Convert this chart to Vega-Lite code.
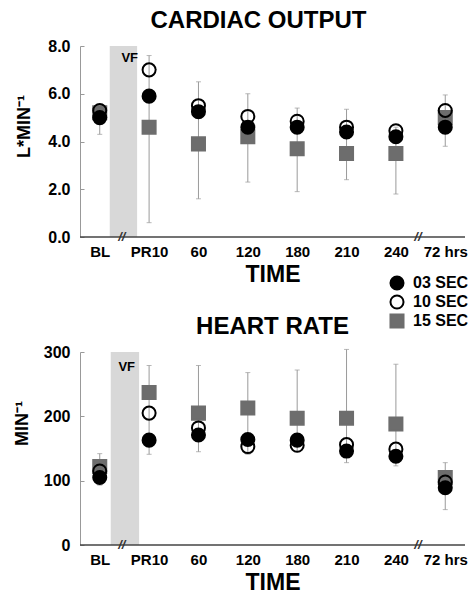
{
  "$schema": "https://vega.github.io/schema/vega-lite/v6.json",
  "padding": {"left": 13, "top": 9, "right": 0, "bottom": 0},
  "spacing": 29,
  "datasets": {
    "co": [
      {"time": "BL", "group": "15 SEC", "value": 5.2},
      {"time": "PR10", "group": "15 SEC", "value": 4.6},
      {"time": "60", "group": "15 SEC", "value": 3.9},
      {"time": "120", "group": "15 SEC", "value": 4.2},
      {"time": "180", "group": "15 SEC", "value": 3.7},
      {"time": "210", "group": "15 SEC", "value": 3.5},
      {"time": "240", "group": "15 SEC", "value": 3.5},
      {"time": "72 hrs", "group": "15 SEC", "value": 5.0},
      {"time": "BL", "group": "10 SEC", "value": 5.3},
      {"time": "PR10", "group": "10 SEC", "value": 7.0},
      {"time": "60", "group": "10 SEC", "value": 5.5},
      {"time": "120", "group": "10 SEC", "value": 5.05},
      {"time": "180", "group": "10 SEC", "value": 4.85},
      {"time": "210", "group": "10 SEC", "value": 4.6},
      {"time": "240", "group": "10 SEC", "value": 4.45},
      {"time": "72 hrs", "group": "10 SEC", "value": 5.3},
      {"time": "BL", "group": "03 SEC", "value": 5.0},
      {"time": "PR10", "group": "03 SEC", "value": 5.9},
      {"time": "60", "group": "03 SEC", "value": 5.25},
      {"time": "120", "group": "03 SEC", "value": 4.6},
      {"time": "180", "group": "03 SEC", "value": 4.6},
      {"time": "210", "group": "03 SEC", "value": 4.4},
      {"time": "240", "group": "03 SEC", "value": 4.2},
      {"time": "72 hrs", "group": "03 SEC", "value": 4.6}
    ],
    "co_err": [
      {"time": "BL", "lo": 4.3, "hi": 5.5},
      {"time": "PR10", "lo": 0.6, "hi": 7.6},
      {"time": "60", "lo": 1.6, "hi": 6.5},
      {"time": "120", "lo": 2.3, "hi": 6.0},
      {"time": "180", "lo": 1.9, "hi": 5.4},
      {"time": "210", "lo": 2.4, "hi": 5.35},
      {"time": "240", "lo": 1.8, "hi": 4.6},
      {"time": "72 hrs", "lo": 3.8, "hi": 5.95}
    ],
    "hr": [
      {"time": "BL", "group": "15 SEC", "value": 122},
      {"time": "PR10", "group": "15 SEC", "value": 237},
      {"time": "60", "group": "15 SEC", "value": 205},
      {"time": "120", "group": "15 SEC", "value": 213},
      {"time": "180", "group": "15 SEC", "value": 197},
      {"time": "210", "group": "15 SEC", "value": 197},
      {"time": "240", "group": "15 SEC", "value": 188},
      {"time": "72 hrs", "group": "15 SEC", "value": 105},
      {"time": "BL", "group": "10 SEC", "value": 115},
      {"time": "PR10", "group": "10 SEC", "value": 205},
      {"time": "60", "group": "10 SEC", "value": 182},
      {"time": "120", "group": "10 SEC", "value": 153},
      {"time": "180", "group": "10 SEC", "value": 155},
      {"time": "210", "group": "10 SEC", "value": 156},
      {"time": "240", "group": "10 SEC", "value": 149},
      {"time": "72 hrs", "group": "10 SEC", "value": 98},
      {"time": "BL", "group": "03 SEC", "value": 105},
      {"time": "PR10", "group": "03 SEC", "value": 163},
      {"time": "60", "group": "03 SEC", "value": 171},
      {"time": "120", "group": "03 SEC", "value": 164},
      {"time": "180", "group": "03 SEC", "value": 163},
      {"time": "210", "group": "03 SEC", "value": 146},
      {"time": "240", "group": "03 SEC", "value": 138},
      {"time": "72 hrs", "group": "03 SEC", "value": 89}
    ],
    "hr_err": [
      {"time": "BL", "lo": 93, "hi": 142},
      {"time": "PR10", "lo": 141, "hi": 279},
      {"time": "60", "lo": 145, "hi": 279},
      {"time": "120", "lo": 141, "hi": 268},
      {"time": "180", "lo": 145, "hi": 272},
      {"time": "210", "lo": 128, "hi": 304},
      {"time": "240", "lo": 123, "hi": 281},
      {"time": "72 hrs", "lo": 55, "hi": 128}
    ],
    "breaks": [{"time": "BL"}, {"time": "240"}]
  },
  "vconcat": [
    {
      "width": 385,
      "height": 191,
      "title": {"text": "CARDIAC OUTPUT", "fontSize": 24, "fontWeight": "bold", "font": "Liberation Sans", "dx": -14, "offset": 5},
      "layer": [
        {
          "data": {"values": [{"k": 1}]},
          "mark": {"type": "rect", "fill": "#d8d8d8", "xOffset": 10, "x2Offset": -12},
          "encoding": {"x": {"datum": "BL", "type": "ordinal"}, "x2": {"datum": "PR10"}, "y": {"datum": 0, "type": "quantitative"}, "y2": {"datum": 8}}
        },
        {
          "data": {"values": [{"k": 1}]},
          "mark": {"type": "text", "text": "VF", "fontSize": 13, "fontWeight": "bold", "font": "Liberation Sans", "dx": 30, "dy": 12},
          "encoding": {"x": {"datum": "BL", "type": "ordinal"}, "y": {"datum": 8, "type": "quantitative"}}
        },
        {
          "data": {"values": [{"k": 1}]},
          "mark": {"type": "rule", "stroke": "#444444", "strokeWidth": 1.5},
          "encoding": {"y": {"datum": 0, "type": "quantitative"}}
        },
        {
          "data": {"name": "breaks"},
          "mark": {"type": "text", "text": "//", "fontSize": 13, "fontStyle": "italic", "fontWeight": "bold", "dx": 22, "color": "#333333"},
          "encoding": {"x": {"field": "time", "type": "ordinal"}, "y": {"datum": 0, "type": "quantitative"}}
        },
        {
          "data": {"name": "co_err"},
          "mark": {"type": "rule", "stroke": "#9a9a9a", "strokeWidth": 1},
          "encoding": {"x": {"field": "time", "type": "ordinal"}, "y": {"field": "lo", "type": "quantitative", "title": "L*MIN⁻¹"}, "y2": {"field": "hi"}}
        },
        {
          "data": {"name": "co_err"},
          "mark": {"type": "tick", "color": "#9a9a9a", "size": 5, "thickness": 1, "orient": "horizontal"},
          "encoding": {"x": {"field": "time", "type": "ordinal"}, "y": {"field": "hi", "type": "quantitative", "title": "L*MIN⁻¹"}}
        },
        {
          "data": {"name": "co_err"},
          "mark": {"type": "tick", "color": "#9a9a9a", "size": 5, "thickness": 1, "orient": "horizontal"},
          "encoding": {"x": {"field": "time", "type": "ordinal"}, "y": {"field": "lo", "type": "quantitative", "title": "L*MIN⁻¹"}}
        },
        {
          "data": {"name": "co"},
          "mark": {"type": "point", "filled": true, "opacity": 1, "strokeWidth": 2},
          "encoding": {
            "x": {
              "field": "time", "type": "ordinal",
              "scale": {"type": "point", "domain": ["BL", "PR10", "60", "120", "180", "210", "240", "72 hrs"], "padding": 0.4},
              "axis": {"title": "TIME", "labelAngle": 0, "labelAlign": "center", "labelBaseline": "top", "domain": false, "ticks": false, "labelPadding": 7, "labelFontSize": 15, "titleFontSize": 23, "titlePadding": 4}
            },
            "y": {
              "field": "value", "type": "quantitative",
              "scale": {"domain": [0, 8], "nice": false, "zero": true},
              "axis": {"title": "L*MIN⁻¹", "values": [0, 2, 4, 6, 8], "format": ".1f", "domainColor": "#999999", "tickColor": "#999999", "tickSize": -4, "labelPadding": 14, "labelFontSize": 16, "titleFontSize": 18, "titleX": -56, "titleY": 80, "titleAngle": -90, "titleAlign": "center", "titleBaseline": "middle"}
            },
            "shape": {"field": "group", "type": "nominal", "scale": {"domain": ["03 SEC", "10 SEC", "15 SEC"], "range": ["circle", "circle", "square"]}, "legend": {"title": null, "orient": "none", "legendX": 309, "legendY": 229}},
            "fill": {"field": "group", "type": "nominal", "scale": {"domain": ["03 SEC", "10 SEC", "15 SEC"], "range": ["#000000", "transparent", "#6d6d6d"]}, "legend": {"title": null, "orient": "none", "legendX": 309, "legendY": 229}},
            "stroke": {"field": "group", "type": "nominal", "scale": {"domain": ["03 SEC", "10 SEC", "15 SEC"], "range": ["#000000", "#000000", "#6d6d6d"]}, "legend": {"title": null, "orient": "none", "legendX": 309, "legendY": 229}},
            "size": {"field": "group", "type": "nominal", "scale": {"domain": ["03 SEC", "10 SEC", "15 SEC"], "range": [170, 170, 210]}, "legend": {"title": null, "orient": "none", "legendX": 309, "legendY": 229}}
          }
        }
      ]
    },
    {
      "width": 385,
      "height": 193,
      "title": {"text": "HEART RATE", "fontSize": 24, "fontWeight": "bold", "font": "Liberation Sans", "offset": 5},
      "layer": [
        {
          "data": {"values": [{"k": 1}]},
          "mark": {"type": "rect", "fill": "#d8d8d8", "xOffset": 11, "x2Offset": -10},
          "encoding": {"x": {"datum": "BL", "type": "ordinal"}, "x2": {"datum": "PR10"}, "y": {"datum": 0, "type": "quantitative"}, "y2": {"datum": 300}}
        },
        {
          "data": {"values": [{"k": 1}]},
          "mark": {"type": "text", "text": "VF", "fontSize": 13, "fontWeight": "bold", "font": "Liberation Sans", "dx": 27, "dy": 15},
          "encoding": {"x": {"datum": "BL", "type": "ordinal"}, "y": {"datum": 300, "type": "quantitative"}}
        },
        {
          "data": {"values": [{"k": 1}]},
          "mark": {"type": "rule", "stroke": "#444444", "strokeWidth": 1.5},
          "encoding": {"y": {"datum": 0, "type": "quantitative"}}
        },
        {
          "data": {"name": "breaks"},
          "mark": {"type": "text", "text": "//", "fontSize": 13, "fontStyle": "italic", "fontWeight": "bold", "dx": 22, "color": "#333333"},
          "encoding": {"x": {"field": "time", "type": "ordinal"}, "y": {"datum": 0, "type": "quantitative"}}
        },
        {
          "data": {"name": "hr_err"},
          "mark": {"type": "rule", "stroke": "#9a9a9a", "strokeWidth": 1},
          "encoding": {"x": {"field": "time", "type": "ordinal"}, "y": {"field": "lo", "type": "quantitative", "title": "MIN⁻¹"}, "y2": {"field": "hi"}}
        },
        {
          "data": {"name": "hr_err"},
          "mark": {"type": "tick", "color": "#9a9a9a", "size": 5, "thickness": 1, "orient": "horizontal"},
          "encoding": {"x": {"field": "time", "type": "ordinal"}, "y": {"field": "hi", "type": "quantitative", "title": "MIN⁻¹"}}
        },
        {
          "data": {"name": "hr_err"},
          "mark": {"type": "tick", "color": "#9a9a9a", "size": 5, "thickness": 1, "orient": "horizontal"},
          "encoding": {"x": {"field": "time", "type": "ordinal"}, "y": {"field": "lo", "type": "quantitative", "title": "MIN⁻¹"}}
        },
        {
          "data": {"name": "hr"},
          "mark": {"type": "point", "filled": true, "opacity": 1, "strokeWidth": 2},
          "encoding": {
            "x": {
              "field": "time", "type": "ordinal",
              "scale": {"type": "point", "domain": ["BL", "PR10", "60", "120", "180", "210", "240", "72 hrs"], "padding": 0.4},
              "axis": {"title": "TIME", "labelAngle": 0, "labelAlign": "center", "labelBaseline": "top", "domain": false, "ticks": false, "labelPadding": 7, "labelFontSize": 15, "titleFontSize": 23, "titlePadding": 4}
            },
            "y": {
              "field": "value", "type": "quantitative",
              "scale": {"domain": [0, 300], "nice": false, "zero": true},
              "axis": {"title": "MIN⁻¹", "values": [0, 50, 100, 150, 200, 250, 300], "labelExpr": "datum.value % 100 == 0 ? datum.label : ''", "domainColor": "#999999", "tickColor": "#999999", "tickSize": {"condition": {"test": "datum.value % 100 == 0", "value": -4}, "value": -2}, "labelPadding": 14, "labelFontSize": 16, "titleFontSize": 18, "titleX": -58, "titleY": 71, "titleAngle": -90, "titleAlign": "center", "titleBaseline": "middle"}
            },
            "shape": {"field": "group", "type": "nominal"},
            "fill": {"field": "group", "type": "nominal"},
            "stroke": {"field": "group", "type": "nominal"},
            "size": {"field": "group", "type": "nominal"}
          }
        }
      ]
    }
  ],
  "config": {
    "view": {"stroke": null},
    "font": "Liberation Sans",
    "axis": {"labelFont": "Liberation Sans", "labelFontWeight": "bold", "labelColor": "#000000", "titleFont": "Liberation Sans", "titleFontWeight": "bold", "titleColor": "#000000", "grid": false},
    "legend": {"labelFont": "Liberation Sans", "labelFontSize": 16, "labelFontWeight": "bold", "labelColor": "#000000", "symbolStrokeWidth": 2, "padding": 0, "rowPadding": -3, "labelOffset": 8},
    "title": {"color": "#000000"}
  }
}
